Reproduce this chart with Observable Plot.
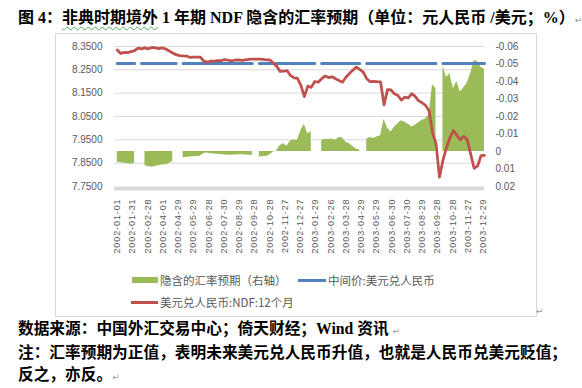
<!DOCTYPE html>
<html>
<head>
<meta charset="utf-8">
<script src="https://cdn.jsdelivr.net/npm/d3@7"></script>
<script src="https://cdn.jsdelivr.net/npm/@observablehq/plot@0.6"></script>
<style>
  body { margin: 0; background: #fff; }
  #wrap { position: relative; width: 582px; height: 388px; overflow: hidden; font-family: "Noto Sans CJK SC", sans-serif; }
  .title { position: absolute; left: 18px; top: 8px; font-size: 16px; font-weight: bold; line-height: 20px; white-space: nowrap; color: #000;
           font-family: "Liberation Serif", "Noto Sans CJK SC", serif; }
  .squig { text-decoration: underline wavy #4caf50; text-decoration-thickness: 1px; text-underline-offset: 3px; }
  .pm { font-family: "DejaVu Sans", sans-serif; font-weight: normal; font-size: 9px; color: #9a9a9a; }
  #box { position: absolute; left: 55px; top: 33px; width: 480px; height: 282px; border: 1px solid #d9d9d9; }
  #chart { position: absolute; left: 0; top: 0; }
  .lgsw { position: absolute; }
  .lgtx { position: absolute; font-size: 11.5px; line-height: 16px; color: #595959; white-space: nowrap; font-family: "Noto Sans CJK SC", sans-serif; }
  .cap { position: absolute; left: 18px; top: 318px; font-size: 15.7px; font-weight: bold; line-height: 22px; color: #000;
         font-family: "Liberation Serif", "Noto Sans CJK SC", serif; white-space: nowrap; }
  [aria-label="x-axis tick label"] text { letter-spacing: 0.9px; }
</style>
</head>
<body>
<div id="wrap">
  <div class="title">图 4：<span class="squig">非典时期境外</span> 1 年期 NDF 隐含的汇率预期（单位：元人民币 /美元；%）<span class="pm">↵</span></div>
  <div id="box"></div>
  <div id="chart"></div>
  <div id="legend"></div>
  <span class="pm" style="position:absolute;left:536px;top:306px;">↵</span>
  <div class="cap">数据来源：中国外汇交易中心；倚天财经；Wind 资讯 <span class="pm">↵</span><br>注：汇率预期为正值，表明未来美元兑人民币升值，也就是人民币兑美元贬值；<br>反之，亦反。<span class="pm">↵</span></div>
</div>
<script>
// ---------- data ----------
const xTickLabels = ["2002-01-01","2002-01-31","2002-02-28","2002-04-01","2002-04-29","2002-05-29","2002-06-28",
  "2002-07-30","2002-08-29","2002-09-28","2002-10-28","2002-11-27","2002-12-27","2003-01-29","2003-02-26",
  "2003-03-28","2003-04-29","2003-05-29","2003-06-30","2003-07-30","2003-08-29","2003-09-28","2003-10-28",
  "2003-11-27","2003-12-29"];
const xTickStep = 22;      // categories between labelled dates
const sampleStep = 5;      // categories between sampled values below
const categoryCount = 531;

const leftTicks = [7.75, 7.85, 7.95, 8.05, 8.15, 8.25, 8.35];
const rightTicks = [-0.06, -0.05, -0.04, -0.03, -0.02, -0.01, 0, 0.01, 0.02];
const rightTickLabels = ["-0.06","-0.05","-0.04","-0.03","-0.02","-0.01","0","0.01","0.02"];

const seriesNames = ["隐含的汇率预期（右轴）", "中间价:美元兑人民币", "美元兑人民币:NDF:12个月"];

// 美元兑人民币:NDF:12个月
const ndf12m = [
  8.335, 8.320, 8.325, 8.324, 8.328, 8.332, 8.343, 8.340, 8.344, 8.340,
  8.346, 8.344, 8.341, 8.344, 8.339, 8.331, 8.322, 8.315, 8.311, 8.310,
  8.309, 8.303, 8.304, 8.305, 8.304, 8.287, 8.283, 8.287, 8.287, 8.290,
  8.289, 8.294, 8.291, 8.288, 8.292, 8.293, 8.291, 8.293, 8.295, 8.296,
  8.296, 8.296, 8.295, 8.293, 8.293, 8.279, 8.266, 8.243, 8.244, 8.247,
  8.226, 8.216, 8.214, 8.183, 8.135, 8.180, 8.175, 8.200, 8.197, 8.212,
  8.224, 8.217, 8.220, 8.212, 8.204, 8.197, 8.218, 8.234, 8.248, 8.262,
  8.252, 8.240, 8.212, 8.199, 8.201, 8.199, 8.198, 8.100, 8.165, 8.164,
  8.147, 8.140, 8.120, 8.133, 8.130, 8.148, 8.136, 8.117, 8.109, 8.097,
  8.075, 7.980, 7.935, 7.790, 7.862, 7.915, 7.958, 7.990, 7.970, 7.950,
  7.965, 7.952, 7.890, 7.828, 7.838, 7.882, 7.883
];

// 中间价:美元兑人民币
const midRate = [
  8.277, 8.277, 8.277, 8.277, 8.277, 8.277, null, 8.277, 8.277, 8.277,
  8.277, 8.277, 8.277, 8.277, 8.277, 8.277, 8.277, 8.277, null, 8.277,
  8.277, 8.277, 8.277, 8.277, 8.277, 8.277, 8.277, 8.277, 8.277, 8.277,
  8.277, 8.277, 8.277, 8.277, 8.277, 8.277, 8.277, 8.277, 8.277, 8.277,
  null, 8.277, 8.277, 8.277, 8.277, 8.277, 8.277, 8.277, 8.277, 8.277,
  8.277, 8.277, 8.277, 8.277, 8.277, 8.277, 8.277, 8.277, null, 8.277,
  8.277, 8.277, 8.277, 8.277, 8.277, 8.277, 8.277, 8.277, 8.277, 8.277,
  8.277, null, 8.277, 8.277, 8.277, 8.277, 8.277, 8.277, 8.277, 8.277,
  8.277, 8.277, 8.277, 8.277, 8.277, 8.277, 8.277, 8.277, 8.277, 8.277,
  8.277, 8.277, 8.277, null, 8.277, 8.277, 8.277, 8.277, 8.277, 8.277,
  8.277, 8.277, 8.277, 8.277, 8.277, 8.277, 8.277
];

// 隐含的汇率预期（右轴）
const impliedExpectation = [
  0.0061, 0.0064, 0.0067, 0.0069, 0.0073, 0.0067, null, null, 0.0081, 0.0086,
  0.0090, 0.0085, 0.0080, 0.0077, 0.0076, 0.0069, 0.0055, null, null, 0.0035,
  0.0033, 0.0032, 0.0030, 0.0029, 0.0027, 0.0012, 0.0008, 0.0013, 0.0014, 0.0016,
  0.0017, 0.0020, 0.0021, 0.0022, 0.0020, 0.0018, 0.0018, 0.0020, 0.0022, 0.0023,
  null, 0.0032, 0.0030, 0.0029, 0.0020, 0.0004, -0.0005, -0.0034, -0.0044, -0.0030,
  -0.0062, -0.0066, -0.0065, -0.0120, -0.0155, -0.0100, -0.0115, null, null, -0.0063,
  -0.0070, -0.0068, -0.0071, -0.0064, -0.0080, -0.0078, -0.0053, -0.0044, -0.0028, -0.0015,
  -0.0008, null, -0.0072, -0.0080, -0.0074, -0.0083, -0.0090, -0.0185, -0.0135, -0.0112,
  -0.0138, -0.0158, -0.0176, -0.0167, -0.0156, -0.0140, -0.0150, -0.0165, -0.0178, -0.0186,
  -0.0210, -0.0380, -0.0360, null, -0.0490, -0.0425, -0.0445, -0.0360, -0.0400, -0.0340,
  -0.0365, -0.0390, -0.0445, -0.0520, -0.0515, -0.0480, -0.0470
];

// ---------- scales ----------
const leftDomain = [7.75, 8.35];
const rightDomain = [-0.06, 0.02]; // reversed: -0.06 at top
const toLeft = g => (g == null ? NaN :
  leftDomain[1] - (g - rightDomain[0]) / (rightDomain[1] - rightDomain[0]) * (leftDomain[1] - leftDomain[0]));

const rows = ndf12m.map((v, k) => ({ i: k * sampleStep, ndf: v, mid: midRate[k], g: impliedExpectation[k] }));
const xTicks = xTickLabels.map((_, m) => m * xTickStep);
const rightPos = rightTicks.map(toLeft);
const rightLabelMap = new Map(rightPos.map((p, j) => [p, rightTickLabels[j]]));

const colors = ["#9bbb59", "#4f81bd", "#c0504d"];

const chart = Plot.plot({
  width: 582,
  height: 262,
  marginLeft: 114,
  marginRight: 98,
  marginTop: 46,
  marginBottom: 76,
  style: { fontFamily: "Liberation Sans, Arial, sans-serif", fontSize: "10px", color: "#595959", background: "transparent", overflow: "visible" },
  x: { type: "linear", domain: [-4, categoryCount - 1], axis: null },
  y: { domain: leftDomain, axis: null },
  marks: [
    Plot.ruleY(leftTicks.slice(1), { stroke: "#d9d9d9", strokeWidth: 1 }),
    Plot.areaY(rows, { x: "i", y1: () => toLeft(0), y2: d => toLeft(d.g), fill: colors[0] }),
    Plot.lineY(rows, { x: "i", y: "mid", stroke: colors[1], strokeWidth: 3 }),
    Plot.lineY(rows, { x: "i", y: "ndf", stroke: colors[2], strokeWidth: 2.75 }),
    Plot.ruleY([leftDomain[0]], { stroke: "#d9d9d9", strokeWidth: 4, dy: 2 }),
    Plot.axisY(leftTicks, { anchor: "left", tickSize: 0, tickPadding: 12, tickFormat: d3.format(".4f"), label: null }),
    Plot.axisY(rightPos, { anchor: "right", tickSize: 0, tickPadding: 11, tickFormat: d => rightLabelMap.get(d), label: null }),
    Plot.axisX(xTicks, { anchor: "bottom", tickSize: 0, tickPadding: 12, tickRotate: -90, fontSize: 9,
      tickFormat: d => xTickLabels[Math.round(d / xTickStep)], label: null })
  ]
});
document.getElementById("chart").appendChild(chart);

// ---------- legend ----------
const legend = document.getElementById("legend");
const legendLayout = [
  { sw: { left: 132, top: 277, width: 26, height: 6 }, tx: { left: 160, top: 272 } },
  { sw: { left: 298, top: 279, width: 28, height: 3 }, tx: { left: 328, top: 272 } },
  { sw: { left: 131, top: 301, width: 27, height: 3 }, tx: { left: 160, top: 294 } }
];
seriesNames.forEach((name, j) => {
  const L = legendLayout[j];
  const sw = document.createElement("div");
  sw.className = "lgsw";
  Object.assign(sw.style, { left: L.sw.left + "px", top: L.sw.top + "px", width: L.sw.width + "px", height: L.sw.height + "px", background: colors[j] });
  const tx = document.createElement("div");
  tx.className = "lgtx";
  Object.assign(tx.style, { left: L.tx.left + "px", top: L.tx.top + "px" });
  tx.textContent = name;
  legend.appendChild(sw);
  legend.appendChild(tx);
});
</script>
</body>
</html>
